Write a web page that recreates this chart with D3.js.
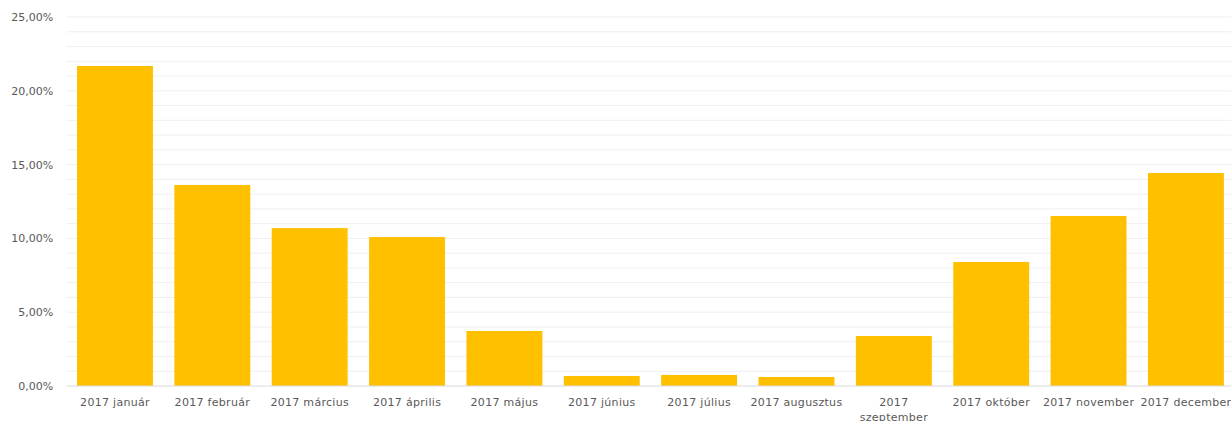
<!DOCTYPE html>
<html><head><meta charset="utf-8">
<script src="https://cdn.jsdelivr.net/npm/d3@7"></script>
<style>body{margin:0;background:#fff}svg{display:block}</style>
</head><body>
<svg id="c" width="1231" height="421"></svg>
<script>
const categories = ["2017 január","2017 február","2017 március","2017 április","2017 május","2017 június","2017 július","2017 augusztus","2017 szeptember","2017 október","2017 november","2017 december"];
const values = [21.68, 13.62, 10.70, 10.09, 3.73, 0.68, 0.75, 0.61, 3.39, 8.40, 11.52, 14.43];
const yTicks = [0,5,10,15,20,25];
const gridTicks = d3.range(0,26,1);

const svg = d3.select("#c");
const m = {l:66.3, r:1234.6, t:17, b:386};
const x = d3.scaleBand().domain(categories).range([m.l, m.r]).paddingInner(0.22).paddingOuter(0.11);
const y = d3.scaleLinear().domain([0,25]).range([m.b, m.t]);
const fmt = v => v.toFixed(2).replace(".", ",") + "%";
const font = "DejaVu Sans, sans-serif";

svg.append("g").selectAll("line").data(gridTicks.filter(d=>d>0)).join("line")
  .attr("x1", m.l).attr("x2", 1231).attr("y1", d=>y(d)).attr("y2", d=>y(d))
  .attr("stroke", "#efefef").attr("stroke-width", 1);

svg.append("g").selectAll("rect").data(values).join("rect")
  .attr("x", (d,i)=>x(categories[i])).attr("width", x.bandwidth())
  .attr("y", d=>y(d)).attr("height", d=>y(0)-y(d)).attr("fill", "#FFC000");

svg.append("line").attr("x1", m.l).attr("x2", 1231).attr("y1", y(0)).attr("y2", y(0))
  .attr("stroke", "#d9d9d9").attr("stroke-width", 1);

const yAxis = d3.axisLeft(y).tickValues(yTicks).tickFormat(fmt).tickSize(0).tickPadding(13);
const ga = svg.append("g").attr("transform", `translate(${m.l},0)`).call(yAxis);
ga.select(".domain").remove();
ga.selectAll("text").attr("fill", "#595959").style("font-family", font).style("font-size", "11px");

const xAxis = d3.axisBottom(x).tickSize(0).tickPadding(12);
const gx = svg.append("g").attr("transform", `translate(0,${m.b})`).call(xAxis);
gx.select(".domain").remove();
gx.selectAll("text").attr("fill", "#595959").style("font-family", font).style("font-size", "11px")
  .style("letter-spacing", "0.3px")
  .each(function(d){
    if (d === "2017 szeptember") {
      const t = d3.select(this); t.text(null);
      const parts = d.split(" ");
      t.append("tspan").attr("x",0).attr("dy","0.71em").text(parts[0]);
      t.append("tspan").attr("x",0).attr("dy","1.35em").text(parts[1]);
      t.attr("dy", null);
    }
  });
</script>
</body></html>
